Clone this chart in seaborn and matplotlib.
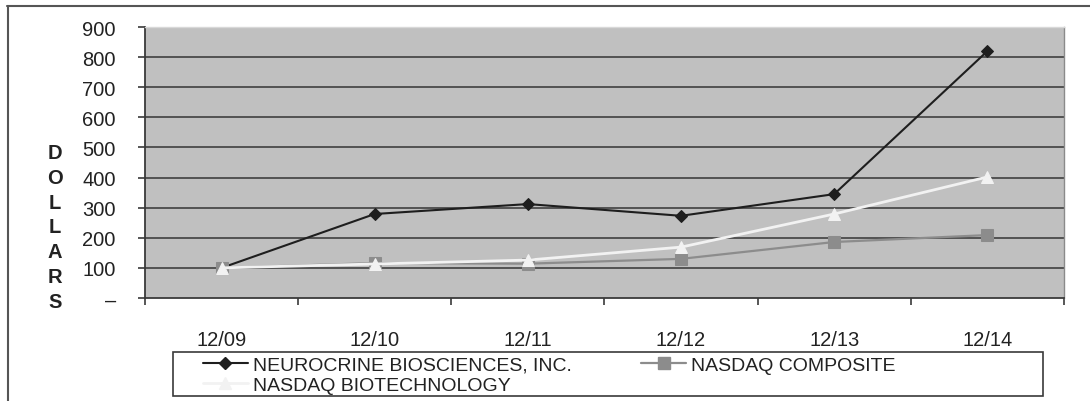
import matplotlib
matplotlib.use("Agg")
import matplotlib.pyplot as plt
from matplotlib.lines import Line2D
from matplotlib.patches import Rectangle
import seaborn as sb
import numpy as np

periods = ["12/09", "12/10", "12/11", "12/12", "12/13", "12/14"]
neurocrine = [100, 279, 312, 273, 345, 820]
nasdaq_composite = [100, 116, 114, 130, 186, 209]
nasdaq_biotech = [100, 113, 126, 169, 279, 402]
y_ticks = [0, 100, 200, 300, 400, 500, 600, 700, 800, 900]
y_tick_labels = ["\u2013", "100", "200", "300", "400", "500", "600", "700", "800", "900"]

W, H = 1090, 402

sb.set_style("white")
plt.rcParams["font.family"] = ["Liberation Sans", "DejaVu Sans"]

fig = plt.figure(figsize=[10.90, 4.02], dpi=100)
ax = fig.add_axes([0.1330, 0.2562, 0.8431, 0.6741])
ax.set_facecolor("#c0c0c0")

# horizontal grid lines (dark)
for v in y_ticks[1:-1]:
    ax.axhline(v, color="#4a4a4a", lw=1.3, zorder=1)

series = [
    ("NEUROCRINE BIOSCIENCES, INC.", neurocrine, "#1e1e1e", "D", 6.5, 1.5),
    ("NASDAQ COMPOSITE", nasdaq_composite, "#8c8c8c", "s", 8, 1.6),
    ("NASDAQ BIOTECHNOLOGY", nasdaq_biotech, "#f2f2f2", "^", 9, 2.0),
]
handles = {}
for name, vals, col, mk, ms, lw in series:
    sb.lineplot(x=periods, y=vals, color=col, marker=mk, markersize=ms,
                markeredgecolor=col, linewidth=lw, ax=ax, zorder=3, sort=False)
    handles[name] = Line2D([], [], color=col, marker=mk, markersize=ms,
                           markeredgecolor=col, linewidth=lw)

ax.set_xlim(-0.5, 5.5)
ax.set_ylim(0, 900)

# y axis
ax.set_yticks(y_ticks)
ax.set_yticklabels(y_tick_labels, fontsize=14.5, color="#222222")
ax.tick_params(axis="y", direction="out", length=5, width=1.2, color="#3a3a3a", pad=16, left=True)

# x axis: ticks at category boundaries, labels at centers
ax.set_xticks(np.arange(-0.5, 6, 1.0))
ax.set_xticklabels([])
ax.set_xticks(range(len(periods)), minor=True)
ax.set_xticklabels(periods, minor=True, fontsize=14.5, color="#222222")
ax.tick_params(axis="x", which="major", direction="out", length=5, width=1.2,
               color="#3a3a3a", bottom=True)
ax.tick_params(axis="x", which="minor", length=0, pad=23)

for s in ["left", "bottom"]:
    ax.spines[s].set_color("#3a3a3a")
    ax.spines[s].set_linewidth(1.3)
ax.spines["right"].set_color("#8a8a8a")
ax.spines["right"].set_linewidth(1.0)
ax.spines["top"].set_color("#d8d8d8")
ax.spines["top"].set_linewidth(1.0)
ax.set_xlabel("")
ax.set_ylabel("")

# stacked y label
fig.text(55 / W, 1 - 228 / H, "\n".join("DOLLARS"), ha="center", va="center",
         fontsize=14.5, fontweight="bold", color="#222222", linespacing=1.38)

# legend frame drawn separately so it can be wider than its entries
fig.add_artist(Rectangle((173 / W, 1 - 397 / H), (1043 - 173) / W, (397 - 353) / H,
                         transform=fig.transFigure, facecolor="white",
                         edgecolor="#3a3a3a", lw=1.2))
order = ["NEUROCRINE BIOSCIENCES, INC.", "NASDAQ BIOTECHNOLOGY", "NASDAQ COMPOSITE"]
leg = fig.legend([handles[n] for n in order], order, ncol=2, loc="upper left",
                 bbox_to_anchor=(203 / W, 1 - 357 / H), bbox_transform=fig.transFigure,
                 fontsize=14, frameon=False, borderpad=0.0,
                 labelspacing=0.12, handlelength=2.3, handletextpad=0.25,
                 borderaxespad=0, columnspacing=3.6)
for t in leg.get_texts():
    t.set_color("#222222")

# outer border (top and left edges visible)
fig.add_artist(Line2D([7 / W, 1.0], [1 - 7 / H, 1 - 7 / H], color="#555555", lw=1.5))
fig.add_artist(Line2D([8 / W, 8 / W], [0, 1 - 7 / H], color="#555555", lw=1.5))

fig.savefig("out.png", dpi=100)
